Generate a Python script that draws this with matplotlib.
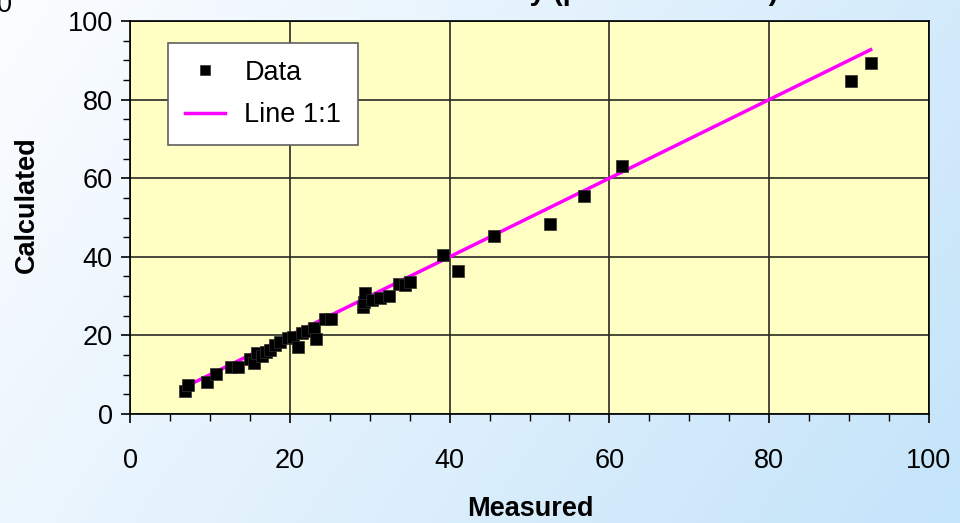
import numpy as np
import matplotlib
matplotlib.use("Agg")
import matplotlib.pyplot as plt
from matplotlib.ticker import MultipleLocator

plt.rcParams['font.family'] = ['Liberation Sans', 'DejaVu Sans']

# measured vs calculated points
measured = [6.9, 7.3, 9.6, 10.8, 12.6, 13.5, 15.0, 15.5, 15.9, 16.5, 17.0, 17.5,
            18.1, 18.8, 19.8, 20.4, 21.0, 21.5, 22.1, 23.0, 23.3, 24.4, 25.2,
            29.2, 29.3, 29.4, 30.3, 31.3, 32.4, 33.7, 34.4, 35.1, 39.2, 41.1,
            45.5, 52.6, 56.8, 61.6, 90.2, 92.8]
calculated = [5.9, 7.3, 8.2, 10.2, 11.9, 12.0, 13.9, 12.9, 15.6, 14.8, 15.9, 16.3,
              17.6, 18.4, 19.3, 19.5, 17.1, 20.5, 21.0, 21.8, 19.0, 24.1, 24.1,
              27.3, 28.6, 30.7, 29.0, 29.4, 29.9, 33.1, 32.8, 33.7, 40.5, 36.5,
              45.4, 48.4, 55.5, 63.2, 84.7, 89.4]
line_x = [6.8, 92.7]
line_y = [6.8, 92.7]

fig = plt.figure(figsize=(9.6, 5.23), dpi=100)

# gradient background (white top-left -> light blue right)
bg = fig.add_axes([0, 0, 1, 1], zorder=-10)
bg.axis('off')
xx, yy = np.meshgrid(np.linspace(0, 1, 200), np.linspace(0, 1, 120))
t = np.clip(0.72 * xx + 0.28 * yy, 0, 1)
c0 = np.array([252, 253, 255]) / 255.0
c1 = np.array([196, 228, 250]) / 255.0
img = c0[None, None, :] * (1 - t[..., None]) + c1[None, None, :] * t[..., None]
bg.imshow(img, aspect='auto', extent=[0, 1, 0, 1], origin='upper')
bg.set_xlim(0, 1)
bg.set_ylim(0, 1)

ax = fig.add_axes([130 / 960, 109 / 523, 799 / 960, 393 / 523])
ax.set_facecolor('#FFFFC4')
ax.set_xlim(0, 100)
ax.set_ylim(0, 100)
ax.xaxis.set_major_locator(MultipleLocator(20))
ax.yaxis.set_major_locator(MultipleLocator(20))
ax.xaxis.set_minor_locator(MultipleLocator(5))
ax.yaxis.set_minor_locator(MultipleLocator(5))
ax.grid(True, which='major', color='#2a2a22', lw=1.2)
ax.set_axisbelow(True)
for s in ax.spines.values():
    s.set_color('black')
    s.set_linewidth(1.2)
ax.tick_params(axis='both', which='major', length=6.5, width=1.2, labelsize=19.5)
ax.tick_params(axis='both', which='minor', length=5, width=1.0)
ax.tick_params(axis='x', which='major', pad=18)
ax.tick_params(axis='y', which='major', pad=6)

ax.plot(line_x, line_y, color='#FF00FF', lw=2.5, label='Line 1:1', zorder=3)
ax.plot(measured, calculated, ls='none', marker='s', ms=8.6, color='black',
        mec='#303030', mew=0.5, label='Data', zorder=4)

h, l = ax.get_legend_handles_labels()
leg = ax.legend(h[::-1], l[::-1], loc='upper left', bbox_to_anchor=(0.0476, 0.944),
                fontsize=19.5, frameon=True, fancybox=False, borderpad=0.62,
                handlelength=1.5, handletextpad=0.7, labelspacing=0.6,
                borderaxespad=0, markerscale=0.8)
leg.get_frame().set_edgecolor('#606060')
leg.get_frame().set_facecolor('white')
leg.get_frame().set_linewidth(1.2)
leg.get_frame().set_alpha(1)

fig.text(530 / 960, 1 - 509 / 523, 'Measured', ha='center', va='center',
         fontsize=19.5, fontweight='bold')
fig.text(27 / 960, 1 - 205 / 523, 'Calculated', ha='center', va='center',
         rotation=90, fontsize=19.5, fontweight='bold')

# title and stray label that are cut off by the top edge
fig.text(778 / 960, 1.0, 'Calculated vs. Measured Porosity (percent of total)',
         ha='right', va='baseline', fontsize=20.5, fontweight='bold')
fig.text(12 / 960, 1 - 12 / 523, '0', ha='right', va='baseline', fontsize=19.5)

fig.savefig('out.png', dpi=100)
